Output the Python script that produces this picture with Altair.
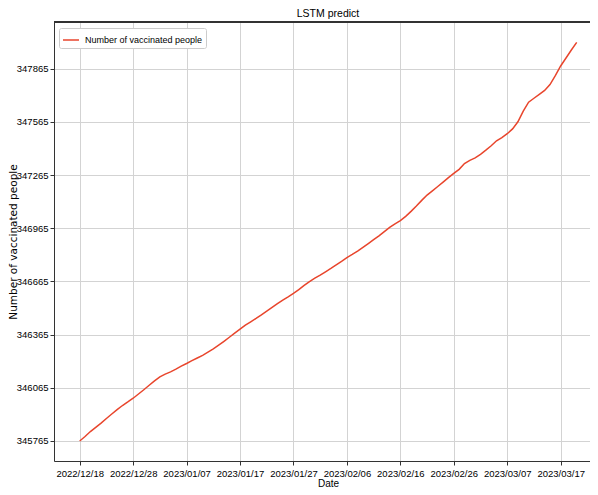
import altair as alt
import pandas as pd

# index of each prediction step (0 = 2022/12/18)
idx = list(range(94))
values = [
    345765, 345790, 345818, 345842, 345866, 345892, 345917, 345942, 345965, 345985,
    346006, 346030, 346054, 346079, 346104, 346127, 346142, 346155, 346170, 346187,
    346202, 346218, 346233, 346248, 346266, 346284, 346305, 346327, 346350, 346373,
    346396, 346418, 346437, 346456, 346476, 346497, 346518, 346539, 346560, 346578,
    346597, 346619, 346642, 346664, 346683, 346700, 346719, 346738, 346758, 346778,
    346799, 346817, 346836, 346857, 346878, 346900, 346922, 346946, 346970, 346990,
    347008, 347032, 347060, 347090, 347122, 347152, 347176, 347200, 347225, 347250,
    347274, 347297, 347330, 347348, 347362, 347382, 347405, 347430, 347458, 347476,
    347498, 347525, 347565, 347625, 347676, 347698, 347720, 347742, 347775, 347825,
    347880, 347925, 347970, 348013,
]
tick_idx = [0, 10, 20, 30, 40, 50, 60, 70, 80, 90]
tick_labels = ["2022/12/18", "2022/12/28", "2023/01/07", "2023/01/17", "2023/01/27",
               "2023/02/06", "2023/02/16", "2023/02/26", "2023/03/07", "2023/03/17"]
y_ticks = [345765, 346065, 346365, 346665, 346965, 347265, 347565, 347865]
series_name = "Number of vaccinated people"
chart_title = "LSTM predict"

df = pd.DataFrame({"idx": idx, "value": values, "series": series_name})
title_df = pd.DataFrame({"t": [chart_title]})

FONT = "Liberation Sans, Arial, sans-serif"
W, H = 536, 439

label_expr = "[" + ",".join("'%s'" % t for t in tick_labels) + "][round(datum.value/10)]"

line = alt.Chart(df).mark_line(strokeWidth=1.5).encode(
    x=alt.X("idx:Q",
            scale=alt.Scale(domain=[-4.81, 95.49], nice=False, zero=False),
            axis=alt.Axis(values=tick_idx, labelExpr=label_expr, title="Date",
                          labelFont=FONT, labelFontSize=9.5, labelColor="#000",
                          titleFont=FONT, titleFontSize=10, titleFontWeight="normal",
                          titleColor="#000", titleX=274, titleY=25,
                          titleBaseline="alphabetic", titleAnchor="middle", titleAlign="center",
                          tickSize=4, tickColor="#333", labelPadding=3,
                          domainColor="#333", gridColor="#d3d3d3", grid=True,
                          labelFlush=False, labelOverlap=False)),
    y=alt.Y("value:Q",
            scale=alt.Scale(domain=[345652, 348128], nice=False, zero=False),
            axis=alt.Axis(values=y_ticks, format="d", title=series_name,
                          labelFont=FONT, labelFontSize=9.5, labelColor="#000",
                          titleFont="DejaVu Sans", titleFontSize=10.5, titleFontWeight="normal",
                          titleColor="#000", titleX=-36, titleY=H / 2, titleAngle=270,
                          titleBaseline="bottom", titleAlign="center",
                          tickSize=4, tickColor="#333", labelPadding=2,
                          domainColor="#333", gridColor="#d3d3d3", grid=True,
                          labelFlush=False, labelOverlap=False)),
    color=alt.Color("series:N",
                    scale=alt.Scale(domain=[series_name], range=["#e8452c"]),
                    legend=alt.Legend(title=None, orient="none", legendX=5, legendY=6,
                                      symbolType="stroke", symbolSize=256,
                                      symbolStrokeWidth=1.5, labelFont=FONT,
                                      labelFontSize=9, labelColor="#000",
                                      labelOffset=5, padding=3, fillColor="white",
                                      strokeColor="#cccccc", cornerRadius=2)),
)

top_spine = alt.Chart(df).mark_rule(color="#333", strokeWidth=1).encode(
    x=alt.value(0), x2=alt.value(W), y=alt.value(0)
)

title_text = alt.Chart(title_df).mark_text(
    font=FONT, fontSize=10.5, color="#000", align="center", baseline="alphabetic"
).encode(text="t:N", x=alt.value(274), y=alt.value(-5.5))

chart = alt.layer(line, top_spine, title_text).properties(
    width=W, height=H,
    autosize=alt.AutoSizeParams(type="none"),
    padding={"left": 46, "top": 14, "right": 0, "bottom": 26},
).configure_view(strokeOpacity=0).configure(background="white")

chart.save("out.html", embed_options={"renderer": "svg", "actions": False})
